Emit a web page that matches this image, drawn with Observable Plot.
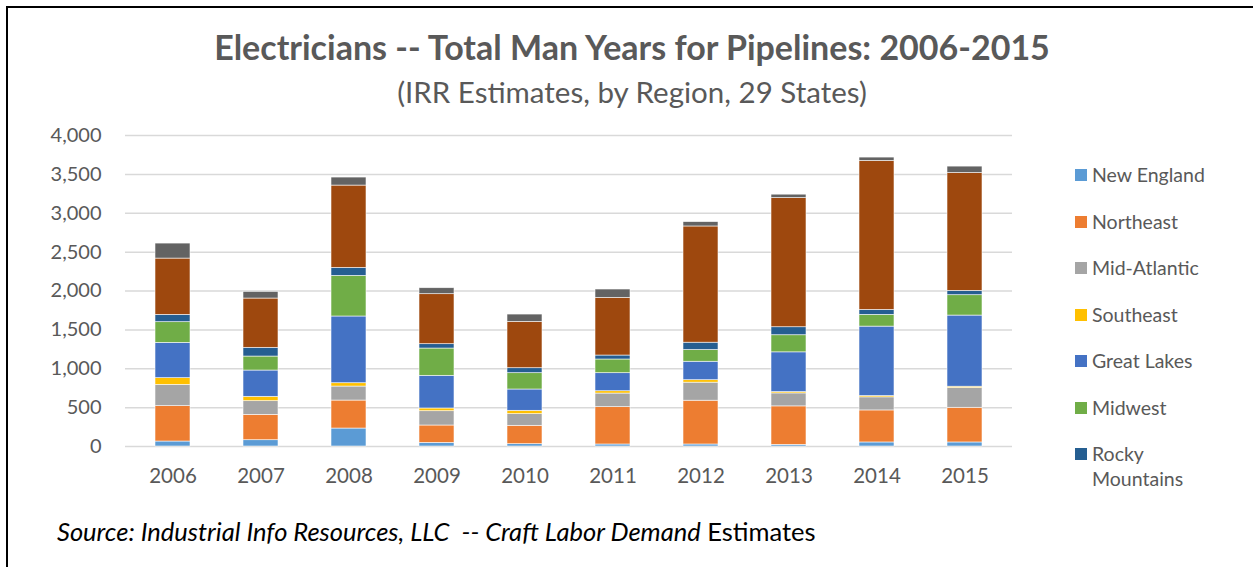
<!DOCTYPE html>
<html>
<head>
<meta charset="utf-8">
<script src="https://cdn.jsdelivr.net/npm/d3@7"></script>
<script src="https://cdn.jsdelivr.net/npm/@observablehq/plot@0.6"></script>
<style>
  html, body { margin: 0; padding: 0; background: #fff; }
  #wrap { position: relative; width: 1253px; height: 567px; overflow: hidden; background: #fff; font-family: Lato, "Open Sans", sans-serif; }
  #frame { position: absolute; left: 6px; top: 6px; width: 1260px; height: 600px; border-top: 2px solid #000; border-left: 2px solid #000; z-index: 10; pointer-events: none; }
  #title { position: absolute; left: 0; width: 1264px; top: 26px; text-align: center; font-weight: bold; font-size: 34px; color: #595959; white-space: nowrap; }
  #subtitle { position: absolute; left: 0; width: 1264px; top: 74px; text-align: center; font-size: 29.5px; color: #595959; white-space: nowrap; }
  #chart { position: absolute; left: 0; top: 115px; }
  .leg { position: absolute; left: 1075px; font-size: 19.5px; color: #595959; line-height: 25px; }
  .leg .sw { position: absolute; left: 0; top: 7px; width: 12px; height: 12px; }
  .leg .tx { position: absolute; left: 17px; top: 0; width: 170px; }
  #caption { position: absolute; left: 57px; top: 516px; font-size: 25.5px; color: #000; white-space: nowrap; }
</style>
</head>
<body>
<div id="wrap">
  <div id="frame"></div>
  <div id="title"></div>
  <div id="subtitle"></div>
  <div id="chart"></div>
  <div id="legend"></div>
  <div id="caption"></div>
</div>
<script>
const titleText = "Electricians -- Total Man Years for Pipelines: 2006-2015";
const subtitleText = "(IRR Estimates, by Region, 29 States)";
const years = ["2006","2007","2008","2009","2010","2011","2012","2013","2014","2015"];
const regionNames = ["New England","Northeast","Mid-Atlantic","Southeast","Great Lakes","Midwest","Rocky Mountains","South Central","West Coast"];
const legendNames = ["New England","Northeast","Mid-Atlantic","Southeast","Great Lakes","Midwest","Rocky Mountains"];
const regionColors = ["#5b9bd5","#ed7d31","#a5a5a5","#ffc000","#4472c4","#70ad47","#255e91","#9e480e","#636363"];
const yTicks = [0,500,1000,1500,2000,2500,3000,3500,4000];

const newEngland     = [64, 81, 231, 47, 30, 26, 26, 21, 52, 52];
const northeast      = [455, 326, 360, 223, 236, 480, 563, 495, 412, 446];
const midAtlantic    = [274, 176, 180, 184, 150, 175, 232, 167, 168, 254];
const southeast      = [86, 56, 43, 35, 43, 30, 32, 17, 17, 17];
const greatLakes     = [454, 338, 858, 420, 274, 232, 237, 511, 893, 915];
const midwest        = [266, 180, 522, 351, 210, 176, 151, 220, 151, 262];
const rockyMountains = [94, 112, 103, 56, 64, 51, 94, 103, 64, 56];
const southCentral   = [724, 634, 1059, 643, 596, 742, 1495, 1662, 1916, 1516];
const westCoast      = [193, 86, 103, 77, 94, 107, 56, 43, 43, 82];

const series = [newEngland, northeast, midAtlantic, southeast, greatLakes, midwest, rockyMountains, southCentral, westCoast];

const rows = [];
years.forEach((yr, i) => series.forEach((s, j) => rows.push({year: yr, region: regionNames[j], value: s[i]})));

document.getElementById("title").textContent = titleText;
document.getElementById("subtitle").textContent = subtitleText;
document.getElementById("caption").innerHTML = "<i>Source: Industrial Info Resources, LLC&nbsp; -- Craft Labor Demand</i> Estimates";

const fmt = d3.format(",");
const chart = Plot.plot({
  width: 1040,
  height: 385,
  marginLeft: 125,
  marginRight: 28,
  marginTop: 20,
  marginBottom: 54,
  style: {background: "transparent", color: "#595959", fontFamily: "Lato, 'Open Sans', sans-serif"},
  x: {domain: years, paddingInner: 0.6, paddingOuter: 0.3, label: null},
  y: {domain: [0, 4000], label: null},
  color: {domain: regionNames, range: regionColors},
  marks: [
    Plot.ruleY(yTicks, {stroke: "#d9d9d9", strokeWidth: 1.5}),
    Plot.barY(rows, {x: "year", y: "value", fill: "region", stroke: "#ffffff", strokeWidth: 0.7, strokeOpacity: 0.8}),
    Plot.axisY(yTicks, {tickSize: 0, tickPadding: 24, fontSize: 20, tickFormat: fmt, label: null}),
    Plot.axisX({tickSize: 0, tickPadding: 22, fontSize: 20.5, label: null})
  ]
});
document.getElementById("chart").appendChild(chart);

const legend = document.getElementById("legend");
legendNames.forEach((name, i) => {
  const d = document.createElement("div");
  d.className = "leg";
  d.style.top = (162 + i * 46.5) + "px";
  const sw = document.createElement("div");
  sw.className = "sw";
  sw.style.background = regionColors[regionNames.indexOf(name)];
  const tx = document.createElement("div");
  tx.className = "tx";
  tx.innerHTML = name === "Rocky Mountains" ? "Rocky<br>Mountains" : name;
  d.appendChild(sw); d.appendChild(tx);
  legend.appendChild(d);
});
</script>
</body>
</html>
